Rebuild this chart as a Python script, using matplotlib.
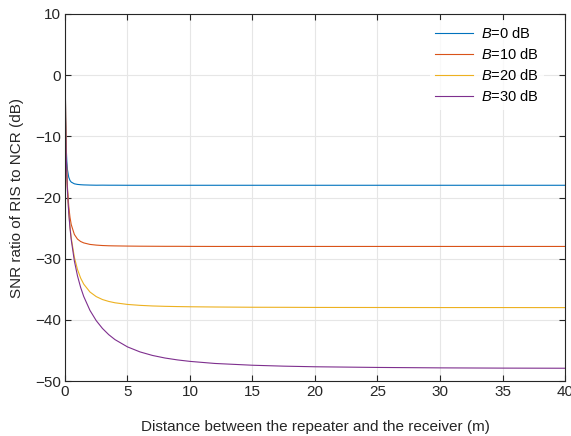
import matplotlib.pyplot as plt

plt.rcParams['font.family'] = ['Liberation Sans', 'DejaVu Sans']
plt.rcParams['mathtext.fontset'] = 'custom'
plt.rcParams['mathtext.it'] = 'Liberation Sans:italic'
plt.rcParams['mathtext.rm'] = 'Liberation Sans'

# distance to the receiver (m)
distance = [0, 0.01, 0.02, 0.05, 0.1, 0.15, 0.2, 0.3, 0.4, 0.5, 0.75, 1, 1.25, 1.5,
            2, 2.5, 3, 3.5, 4, 5, 6, 7, 8, 9, 10, 12, 15, 17.5, 20, 25, 30, 35, 40]

# SNR ratio of RIS to NCR (dB), one list per B
snr_b0 = [7.5, 4.4, 0.2, -6.74, -11.8, -14.17, -15.45, -16.68, -17.21, -17.48, -17.76,
          -17.86, -17.91, -17.94, -17.97, -17.99, -17.98, -17.99, -17.99, -18.0, -18.0,
          -18.0, -18.0, -18.0, -18.0, -18.0, -18.0, -18.0, -18.0, -18.0, -18.0, -18.0,
          -18.0]
snr_b10 = [7.5, 4.4, 0.2, -7.05, -12.85, -16.19, -18.47, -21.42, -23.23, -24.42, -26.04,
           -26.8, -27.19, -27.42, -27.67, -27.78, -27.85, -27.89, -27.91, -27.94, -27.96,
           -27.97, -27.98, -27.98, -27.99, -28.0, -28.0, -28.0, -28.0, -28.0, -28.0,
           -28.0, -28.0]
snr_b20 = [7.5, 4.4, 0.15, -7.08, -12.97, -16.46, -18.93, -22.37, -24.78, -26.6, -29.75,
           -31.77, -33.16, -34.16, -35.45, -36.2, -36.68, -36.99, -37.21, -37.48, -37.63,
           -37.73, -37.79, -37.83, -37.86, -37.9, -37.94, -37.95, -37.97, -37.98, -37.99,
           -37.99, -38.0]
snr_b30 = [7.5, 4.4, 0.15, -7.08, -12.99, -16.49, -18.97, -22.49, -24.97, -26.9, -30.37,
           -32.81, -34.68, -36.18, -38.46, -40.13, -41.41, -42.42, -43.23, -44.42, -45.24,
           -45.82, -46.24, -46.55, -46.79, -47.13, -47.42, -47.57, -47.67, -47.78, -47.85,
           -47.89, -47.91]

labels = ['0', '10', '20', '30']
series = [snr_b0, snr_b10, snr_b20, snr_b30]
colors = ['#0072BD', '#D95319', '#EDB120', '#7E2F8E']

fig = plt.figure(figsize=(5.71, 4.36), dpi=100)
ax = fig.add_axes([0.1138, 0.1261, 0.8757, 0.8418])

for vals, lab, c in zip(series, labels, colors):
    ax.plot(distance, vals, color=c, lw=0.8, label=r'$\it{B}$=' + lab + ' dB')

ax.set_xlim(0, 40)
ax.set_ylim(-50, 10)
ax.set_xticks(range(0, 41, 5))
ax.set_yticks(range(-50, 11, 10))
ax.grid(True, color='#e6e6e6', lw=0.8)
ax.set_axisbelow(True)

for s in ax.spines.values():
    s.set_color('#262626')
    s.set_linewidth(0.8)
ax.tick_params(direction='in', top=True, right=True, length=4, width=0.8,
               color='#262626', labelsize=11, labelcolor='#262626', pad=3)

ax.set_xlabel('Distance between the repeater and the receiver (m)', fontsize=11,
              color='#262626', labelpad=15)
ax.set_ylabel('SNR ratio of RIS to NCR (dB)', fontsize=11, color='#262626', labelpad=8)

leg = ax.legend(loc='upper right', bbox_to_anchor=(0.97, 1.0), fontsize=10.5,
                frameon=True, fancybox=False, edgecolor='white', handlelength=2.6,
                handletextpad=0.5, labelspacing=0.42, borderaxespad=0.4)
leg.get_frame().set_linewidth(0)

fig.savefig('out.png', dpi=100)
